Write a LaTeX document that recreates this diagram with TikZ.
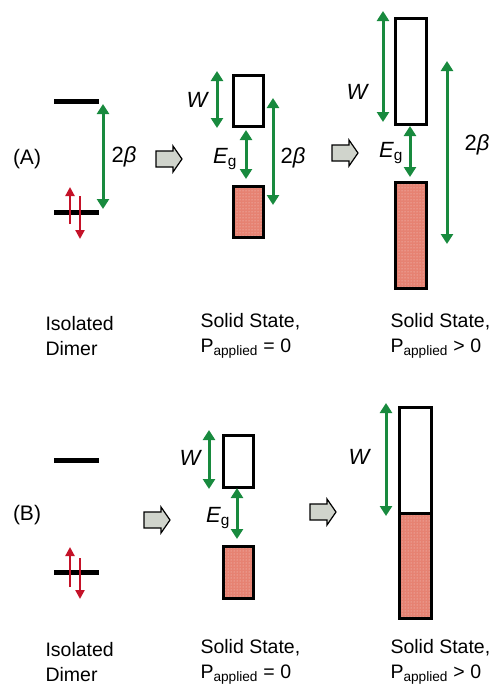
\documentclass[tikz,border=0pt]{standalone}
\usepackage{fontspec}
\setmainfont{Liberation Sans}
\usetikzlibrary{arrows.meta,patterns}
\definecolor{grn}{RGB}{24,138,62}
\definecolor{spinred}{RGB}{196,18,40}
\definecolor{salmon}{RGB}{230,130,114}
\definecolor{hollow}{RGB}{208,212,204}
\tikzset{
  level/.style={line width=5pt},
  garrow/.style={grn,line width=3pt,{Triangle[length=10pt,width=12pt]}-{Triangle[length=10pt,width=12pt]}},
  spin/.style={spinred,line width=2.2pt,-{Triangle[length=9pt,width=9pt]}},
  band/.style={draw=black,line width=3pt},
  sym/.style={font=\fontsize{22}{24}\selectfont\itshape},
  captext/.style={font=\fontsize{19.5}{25}\selectfont,align=left,anchor=west},
  tagtext/.style={font=\fontsize{21}{23}\selectfont}
}
\newcommand{\hollowarrow}[2]{% left x, center y
  \draw[line width=1.2pt,fill=hollow] (#1,#2-8) -- (#1+17,#2-8) -- (#1+17,#2-13) -- (#1+26,#2) -- (#1+17,#2+13) -- (#1+17,#2+8) -- (#1,#2+8) -- cycle;}
\newcommand{\filledband}[4]{%
  \fill[salmon] (#1,#2) rectangle (#3,#4);
  \fill[pattern=dots,pattern color=white!65!salmon] (#1,#2) rectangle (#3,#4);
  \draw[band] (#1,#2) rectangle (#3,#4);}
\begin{document}
\begin{tikzpicture}[x=1pt,y=-1pt]
\useasboundingbox (0,0) rectangle (493,686);
% ================= Panel A =================
\node[tagtext] (tagA) at (27,159) {(A)};
% isolated dimer
\coordinate (a1l) at (54,101); \coordinate (a1r) at (99,101);
\coordinate (a0l) at (54,212); \coordinate (a0r) at (99,212);
\draw[level] (a1l) -- (a1r);
\draw[level] (a0l) -- (a0r);
\coordinate (asu0) at (70,224); \coordinate (asu1) at (70,187);
\coordinate (asd0) at (80,196); \coordinate (asd1) at (80,239);
\draw[spin] (asu0) -- (asu1);
\draw[spin] (asd0) -- (asd1);
\coordinate (ab0) at (103,104); \coordinate (ab1) at (103,209);
\draw[garrow] (ab0) -- (ab1);
\node[sym] (abl) at (124,157) {\upshape 2\itshape β};
\hollowarrow{156}{159}
% solid state, P=0
\draw[band] (233,75) rectangle (263,126);
\filledband{233}{186}{263}{237}
\coordinate (aw0) at (217,71); \coordinate (aw1) at (217,128);
\draw[garrow] (aw0) -- (aw1);
\node[sym] (awl) at (197,100) {W};
\coordinate (ae0) at (246,130); \coordinate (ae1) at (246,179);
\draw[garrow] (ae0) -- (ae1);
\node[sym] (ael) at (225,159) {E\textsubscript{\upshape g}};
\coordinate (ab20) at (273,98); \coordinate (ab21) at (273,205);
\draw[garrow] (ab20) -- (ab21);
\node[sym] (ab2l) at (293,158) {\upshape 2\itshape β};
\hollowarrow{332}{153}
% solid state, P>0
\draw[band] (395,18) rectangle (426,124);
\filledband{395}{182}{426}{288}
\coordinate (aw30) at (383,11); \coordinate (aw31) at (383,122);
\draw[garrow] (aw30) -- (aw31);
\node[sym] (aw3l) at (357,92) {W};
\coordinate (ae30) at (410,126); \coordinate (ae31) at (410,177);
\draw[garrow] (ae30) -- (ae31);
\node[sym] (ae3l) at (391,153) {E\textsubscript{\upshape g}};
\coordinate (ab30) at (447,61); \coordinate (ab31) at (447,244);
\draw[garrow] (ab30) -- (ab31);
\node[sym] (ab3l) at (477,145) {\upshape 2\itshape β};
% captions A
\node[captext] (capA1) at (42,336) {Isolated\\Dimer};
\node[captext] (capA2) at (197,336) {Solid State,\\P\textsubscript{applied} = 0};
\node[captext] (capA3) at (387,336) {Solid State,\\P\textsubscript{applied} > 0};
% ================= Panel B =================
\node[tagtext] (tagB) at (27,515) {(B)};
\coordinate (b1l) at (54,460); \coordinate (b1r) at (99,460);
\coordinate (b0l) at (54,572); \coordinate (b0r) at (99,572);
\draw[level] (b1l) -- (b1r);
\draw[level] (b0l) -- (b0r);
\coordinate (bsu0) at (70,587); \coordinate (bsu1) at (70,547);
\coordinate (bsd0) at (80,558); \coordinate (bsd1) at (80,599);
\draw[spin] (bsu0) -- (bsu1);
\draw[spin] (bsd0) -- (bsd1);
\hollowarrow{144}{520}
% solid state, P=0
\draw[band] (223,435) rectangle (253,487);
\filledband{223}{546}{253}{598}
\coordinate (bw0) at (209,430); \coordinate (bw1) at (209,489);
\draw[garrow] (bw0) -- (bw1);
\node[sym] (bwl) at (190,458) {W};
\coordinate (be0) at (237,488); \coordinate (be1) at (237,539);
\draw[garrow] (be0) -- (be1);
\node[sym] (bel) at (218,518) {E\textsubscript{\upshape g}};
\hollowarrow{310}{512}
% solid state, P>0
\filledband{399}{513}{431}{618}
\draw[band] (399,407) rectangle (431,618);
\draw[band] (399,513) -- (431,513);
\coordinate (bw30) at (386,403); \coordinate (bw31) at (386,516);
\draw[garrow] (bw30) -- (bw31);
\node[sym] (bw3l) at (359,457) {W};
% captions B
\node[captext] (capB1) at (42,662) {Isolated\\Dimer};
\node[captext] (capB2) at (197,662) {Solid State,\\P\textsubscript{applied} = 0};
\node[captext] (capB3) at (387,662) {Solid State,\\P\textsubscript{applied} > 0};
\end{tikzpicture}
\end{document}
